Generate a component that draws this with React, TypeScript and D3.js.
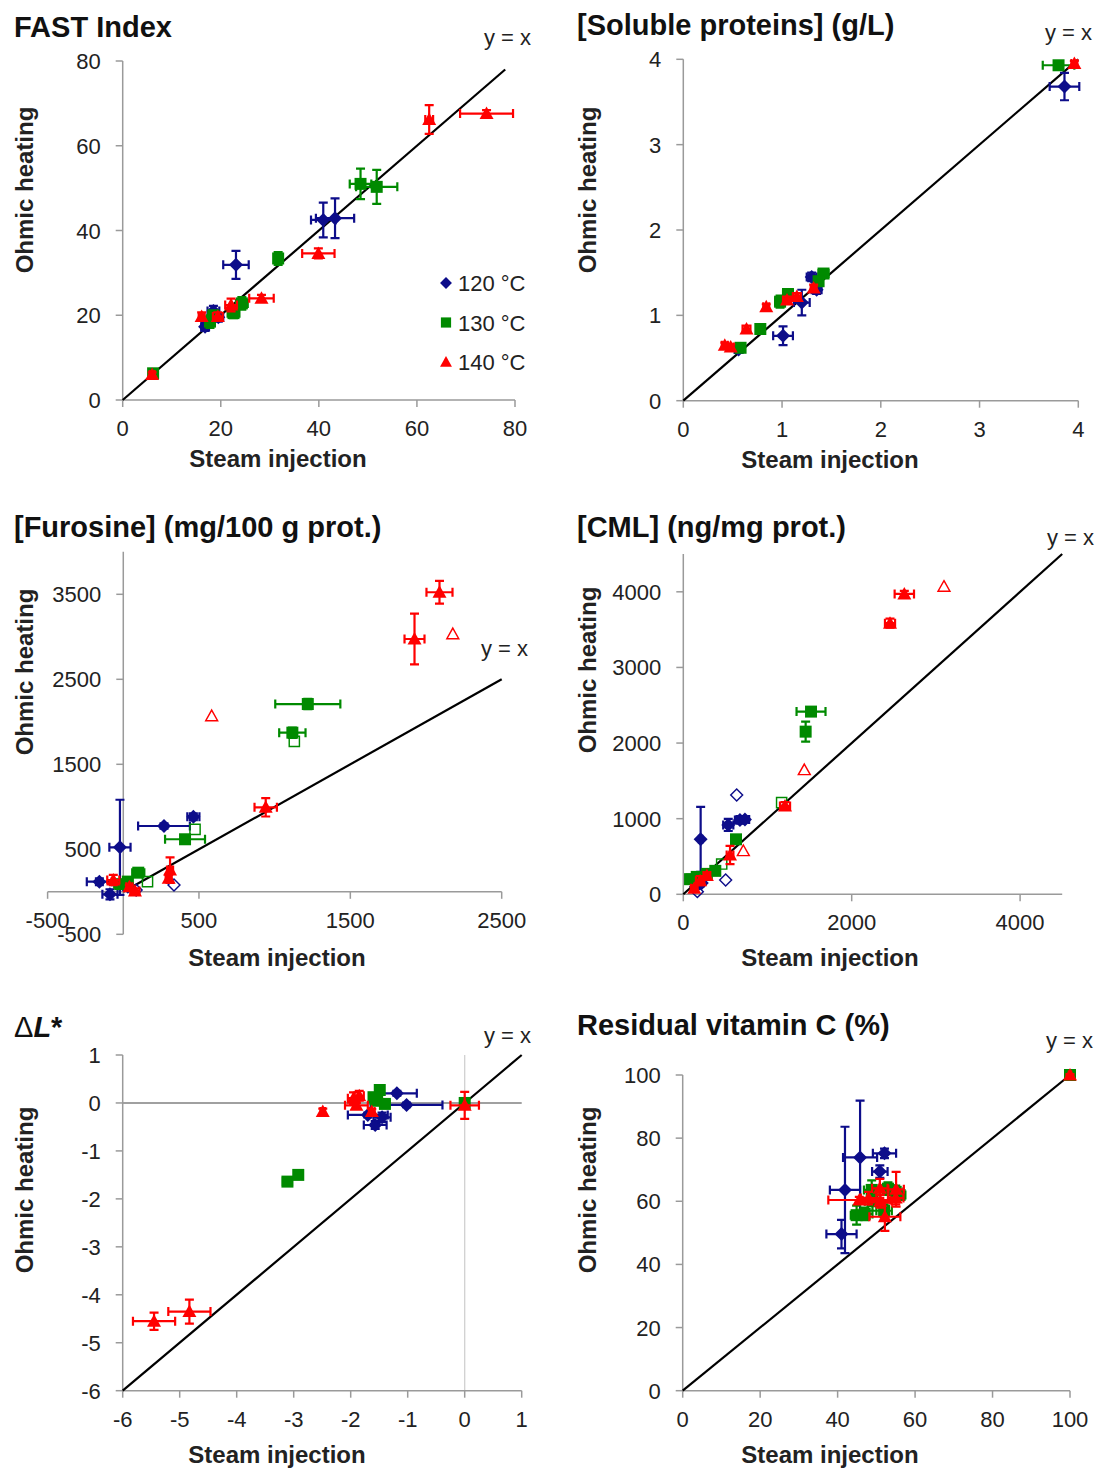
import React from "react";
import * as d3 from "d3";

// [steam, ohmic, xErr, yErr]
type Pt = number[];

const FONT = "'Liberation Sans', Arial, Helvetica, sans-serif";
const BLUE = "#0d0d8a";
const GREEN = "#008a00";
const RED = "#ff0000";
const AXIS = "#9a9a9a";

const temps = ["120 °C", "130 °C", "140 °C"];
const colors = [BLUE, GREEN, RED];
const shapes = ["diamond", "square", "triangle"];

// FAST Index
const fast120: Pt[] = [[16.8, 17.3, 0.8, 1], [18.5, 21, 1.2, 1.2], [19.5, 19.5, 1, 1], [23.1, 31.9, 2.6, 3.3], [40.9, 42.5, 2.5, 4.1], [43.3, 42.9, 3.9, 4.7]];
const fast130: Pt[] = [[6.2, 6.3, 0.5, 0.5], [17.8, 18.5, 1, 1.5], [18.5, 20, 1, 1], [22.6, 20.5, 1.2, 1.2], [24.3, 22.8, 1.2, 1.5], [31.7, 33.4, 0.8, 1.5], [48.5, 51, 2.2, 3.6], [51.8, 50.3, 4.2, 4]];
const fast140: Pt[] = [[6, 6, 0.5, 0.5], [16.1, 19.7, 0.6, 1], [19.4, 19.7, 1, 1], [22.1, 22.4, 1.2, 1.5], [28.3, 24, 2.5, 0.8], [39.9, 34.6, 3.3, 1.2], [62.5, 66.2, 0.8, 3.4], [74.2, 67.6, 5.4, 0.8]];

// Soluble proteins
const sol120: Pt[] = [[3.86, 3.68, 0.15, 0.16], [1.01, 0.76, 0.1, 0.11], [1.2, 1.15, 0.08, 0.15], [1.3, 1.45, 0.05, 0.05], [0.56, 0.6, 0.04, 0.04], [1.35, 1.3, 0.05, 0.05]];
const sol130: Pt[] = [[3.8, 3.93, 0.16, 0.04], [0.58, 0.62, 0.04, 0.03], [0.78, 0.84, 0.04, 0.03], [0.98, 1.16, 0.05, 0.07], [1.06, 1.25, 0.05, 0.05], [1.42, 1.49, 0.05, 0.03], [1.37, 1.4, 0.04, 0.05]];
const sol140: Pt[] = [[3.96, 3.95, 0.03, 0.03], [0.42, 0.65, 0.03, 0.03], [0.48, 0.63, 0.03, 0.03], [0.64, 0.84, 0.04, 0.04], [0.84, 1.1, 0.03, 0.03], [1.05, 1.18, 0.04, 0.04], [1.15, 1.22, 0.04, 0.04], [1.32, 1.32, 0.03, 0.04]];

// Furosine
const fur120: Pt[] = [[463, 884, 40, 40], [269, 774, 171, 30], [-22, 523, 70, 560], [-158, 119, 83, 40], [-88, -30, 50, 60], [30, 60, 30, 40]];
const fur120open: Pt[] = [[335, 80], [85, 20]];
const fur130: Pt[] = [[1219, 2209, 215, 60], [1117, 1872, 87, 60], [408, 618, 132, 50], [99, 225, 40, 50], [-20, 90, 40, 40], [30, 120, 30, 30]];
const fur130open: Pt[] = [[1130, 1770], [474, 735], [160, 120]];
const fur140: Pt[] = [[2089, 3524, 86, 133], [1924, 2974, 66, 298], [941, 994, 74, 108], [309, 256, 20, 150], [300, 160, 20, 40], [-66, 139, 40, 60], [77, 10, 30, 30], [40, 60, 20, 20]];
const fur140open: Pt[] = [[2177, 3033], [584, 2068]];

// CML
const cml120: Pt[] = [[206, 727, 20, 430], [534, 917, 60, 80], [673, 984, 60, 50], [732, 990, 50, 40], [150, 100, 20, 30], [220, 150, 20, 20]];
const cml120open: Pt[] = [[634, 1313], [503, 189], [167, 35]];
const cml130: Pt[] = [[1517, 2416, 172, 40], [1453, 2151, 40, 132], [626, 727, 40, 40], [80, 200, 40, 60], [160, 230, 40, 40], [280, 270, 40, 40], [380, 310, 40, 40]];
const cml130open: Pt[] = [[1168, 1212], [456, 400]];
const cml140: Pt[] = [[2625, 3972, 115, 40], [2455, 3585, 60, 60], [1208, 1168, 60, 50], [555, 520, 40, 120], [200, 180, 50, 60], [130, 80, 40, 40], [280, 250, 40, 40]];
const cml140open: Pt[] = [[3096, 4069], [1437, 1644], [713, 573]];

// Delta L*
const dl120: Pt[] = [[-1.02, -0.04, 0.63, 0.05], [-1.19, 0.2, 0.35, 0.05], [-1.57, -0.46, 0.2, 0.08], [-1.7, -0.25, 0.35, 0.05], [-1.45, -0.3, 0.15, 0.1]];
const dl130: Pt[] = [[-3.11, -1.64, 0.08, 0.06], [-2.92, -1.5, 0.05, 0.06], [-1.49, 0.27, 0.05, 0.1], [-1.55, 0.05, 0.1, 0.1], [-1.4, -0.02, 0.08, 0.08], [-1.6, 0.12, 0.05, 0.05], [0, 0, 0.05, 0.05]];
const dl140: Pt[] = [[-5.45, -4.55, 0.37, 0.18], [-4.83, -4.35, 0.37, 0.25], [-2.49, -0.18, 0.04, 0.06], [-1.95, 0.1, 0.1, 0.12], [-1.85, 0.15, 0.08, 0.1], [-1.63, -0.18, 0.05, 0.05], [-1.9, -0.05, 0.2, 0.05], [0, -0.05, 0.25, 0.28]];

// Residual vitamin C
const vc120: Pt[] = [[45.8, 73.9, 4.4, 18], [41.9, 63.6, 3.9, 20], [52.1, 75.2, 3, 1.5], [50.9, 69.4, 2, 2], [41, 49.6, 3.9, 4.5]];
const vc130: Pt[] = [[100, 100, 0.3, 0.3], [44.9, 55.6, 1.5, 3], [47, 56, 2, 2], [48.8, 63.6, 2, 3], [49, 60, 2, 3], [53, 64, 1.5, 2], [55, 63, 2, 2], [56, 62, 1.5, 1.5], [52, 57, 2, 2]];
const vc140: Pt[] = [[100, 100, 0.3, 0.3], [45.6, 60.4, 8, 1], [48, 61, 2, 2], [50.9, 64.1, 2, 3], [51, 60, 3, 2], [52.2, 55.1, 4, 4.5], [55.1, 63.8, 2, 5.5], [55, 61, 2, 2]];

const fastTicks = [0, 20, 40, 60, 80];
const solTicks = [0, 1, 2, 3, 4];
const furXTicks = [-500, 500, 1500, 2500];
const furYTicks = [-500, 500, 1500, 2500, 3500];
const cmlXTicks = [0, 2000, 4000];
const cmlYTicks = [0, 1000, 2000, 3000, 4000];
const dlTicks = [-6, -5, -4, -3, -2, -1, 0, 1];
const vcTicks = [0, 20, 40, 60, 80, 100];

function markerPath(shape: string) {
  if (shape === "diamond") return "M0,-7L7,0L0,7L-7,0Z";
  if (shape === "square") return "M-6,-6H6V6H-6Z";
  return "M0,-7L7,5.5L-7,5.5Z";
}

const panels = [
  {
    title: "FAST Index", titlePos: [14, 37],
    xDomain: [0, 80], xRange: [122.7, 515], yDomain: [0, 80], yRange: [400, 61],
    xTicks: fastTicks, yTicks: fastTicks, line: [0, 78],
    yx: [484, 45], xTitle: [278, 467], yTitle: [33, 190],
    series: [[fast120, []], [fast130, []], [fast140, []]], legend: [446, 283, 39.5],
  },
  {
    title: "[Soluble proteins] (g/L)", titlePos: [577, 35],
    xDomain: [0, 4], xRange: [683.3, 1078.3], yDomain: [0, 4], yRange: [400.7, 59.3],
    xTicks: solTicks, yTicks: solTicks, line: [0, 4],
    yx: [1045, 40], xTitle: [830, 468], yTitle: [596, 190],
    series: [[sol120, []], [sol130, []], [sol140, []]],
  },
  {
    title: "[Furosine] (mg/100 g prot.)", titlePos: [14, 537],
    xDomain: [-500, 2500], xRange: [47.6, 501.7], yDomain: [-500, 4000], yRange: [934.3, 551.8],
    xTicks: furXTicks, yTicks: furYTicks, line: [0, 2500], xAxisAt: 0, yAxisAt: 0,
    yx: [481, 656], xTitle: [277, 966], yTitle: [33, 672],
    series: [[fur120, fur120open], [fur130, fur130open], [fur140, fur140open]],
  },
  {
    title: "[CML] (ng/mg prot.)", titlePos: [577, 537],
    xDomain: [0, 4500], xRange: [683.3, 1062.2], yDomain: [0, 4500], yRange: [894.3, 554],
    xTicks: cmlXTicks, yTicks: cmlYTicks, line: [0, 4500],
    yx: [1047, 545], xTitle: [830, 966], yTitle: [596, 670],
    series: [[cml120, cml120open], [cml130, cml130open], [cml140, cml140open]],
  },
  {
    title: "dl", titlePos: [14, 1037],
    xDomain: [-6, 1], xRange: [122.7, 521.7], yDomain: [-6, 1], yRange: [1390.7, 1055],
    xTicks: dlTicks, yTicks: dlTicks, line: [-6, 1], zeroLines: true,
    yx: [484, 1043], xTitle: [277, 1463], yTitle: [33, 1190],
    series: [[dl120, []], [dl130, []], [dl140, []]],
  },
  {
    title: "Residual vitamin C (%)", titlePos: [577, 1035],
    xDomain: [0, 100], xRange: [682.7, 1070], yDomain: [0, 100], yRange: [1390.7, 1075],
    xTicks: vcTicks, yTicks: vcTicks, line: [0, 100],
    yx: [1046, 1048], xTitle: [830, 1463], yTitle: [596, 1190],
    series: [[vc120, []], [vc130, []], [vc140, []]],
  },
];

function Panel({ p }: { p: any }) {
  const x = d3.scaleLinear().domain(p.xDomain).range(p.xRange);
  const y = d3.scaleLinear().domain(p.yDomain).range(p.yRange);
  const axY = y(p.xAxisAt ?? p.yDomain[0]);
  const axX = x(p.yAxisAt ?? p.xDomain[0]);
  const cap = 4.5;

  return (
    <g>
      {p.title === "dl" ? (
        <text x={p.titlePos[0]} y={p.titlePos[1]} fontSize={29} fontWeight="bold" fontFamily={FONT} fill="#111">
          <tspan fontWeight="normal">Δ</tspan>
          <tspan fontStyle="italic">L</tspan>
          <tspan>*</tspan>
        </text>
      ) : (
        <text x={p.titlePos[0]} y={p.titlePos[1]} fontSize={29} fontWeight="bold" fontFamily={FONT} fill="#111">
          {p.title}
        </text>
      )}

      {p.zeroLines && (
        <g>
          <line x1={x(0)} x2={x(0)} y1={y(p.yDomain[0])} y2={y(p.yDomain[1])} stroke="#d0d0d0" strokeWidth={1.3} />
          <line x1={x(p.xDomain[0])} x2={x(p.xDomain[1])} y1={y(0)} y2={y(0)} stroke="#808080" strokeWidth={1.5} />
        </g>
      )}

      {/* axes */}
      <line x1={x(p.xDomain[0])} x2={x(p.xDomain[1])} y1={axY} y2={axY} stroke={AXIS} strokeWidth={1.5} />
      <line x1={axX} x2={axX} y1={y(p.yDomain[0])} y2={y(p.yDomain[1])} stroke={AXIS} strokeWidth={1.5} />
      {p.xTicks.map((t: number) => (
        <g key={"x" + t}>
          <line x1={x(t)} x2={x(t)} y1={axY} y2={axY + 7} stroke={AXIS} strokeWidth={1.5} />
          <text x={x(t)} y={axY + 36} textAnchor="middle" fontSize={22} fontFamily={FONT} fill="#222">{t}</text>
        </g>
      ))}
      {p.yTicks.map((t: number) => (
        <g key={"y" + t}>
          <line x1={axX - 7} x2={axX} y1={y(t)} y2={y(t)} stroke={AXIS} strokeWidth={1.5} />
          <text x={axX - 22} y={y(t) + 8} textAnchor="end" fontSize={22} fontFamily={FONT} fill="#222">{t}</text>
        </g>
      ))}

      {/* y = x */}
      <line x1={x(p.line[0])} y1={y(p.line[0])} x2={x(p.line[1])} y2={y(p.line[1])} stroke="#000" strokeWidth={2.2} />
      <text x={p.yx[0]} y={p.yx[1]} fontSize={22} fontFamily={FONT} fill="#222">y = x</text>

      {/* data */}
      {p.series.map((s: Pt[][], i: number) => (
        <g key={i} fill={colors[i]} stroke={colors[i]}>
          {s[1].map((d, j) => (
            <path key={"o" + j} d={markerPath(shapes[i])} transform={`translate(${x(d[0])},${y(d[1])}) scale(0.85)`} fill="none" strokeWidth={1.7} />
          ))}
          {s[0].map((d, j) => {
            const cx = x(d[0]);
            const cy = y(d[1]);
            const x0 = x(d[0] - d[2]);
            const x1 = x(d[0] + d[2]);
            const y0 = y(d[1] - d[3]);
            const y1 = y(d[1] + d[3]);
            return (
              <g key={j}>
                <path
                  d={`M${x0},${cy}H${x1}M${x0},${cy - cap}V${cy + cap}M${x1},${cy - cap}V${cy + cap}M${cx},${y0}V${y1}M${cx - cap},${y0}H${cx + cap}M${cx - cap},${y1}H${cx + cap}`}
                  fill="none"
                  strokeWidth={2.2}
                />
                <path d={markerPath(shapes[i])} transform={`translate(${cx},${cy})`} stroke="none" />
              </g>
            );
          })}
        </g>
      ))}

      {/* axis titles */}
      <text x={p.xTitle[0]} y={p.xTitle[1]} textAnchor="middle" fontSize={24} fontWeight="bold" fontFamily={FONT} fill="#222">
        Steam injection
      </text>
      <text transform={`translate(${p.yTitle[0]},${p.yTitle[1]}) rotate(-90)`} textAnchor="middle" fontSize={24} fontWeight="bold" fontFamily={FONT} fill="#222">
        Ohmic heating
      </text>

      {p.legend && temps.map((t, i) => (
        <g key={t}>
          <path d={markerPath(shapes[i])} transform={`translate(${p.legend[0]},${p.legend[1] + i * p.legend[2]}) scale(0.85)`} fill={colors[i]} />
          <text x={p.legend[0] + 12} y={p.legend[1] + i * p.legend[2] + 8} fontSize={22} fontFamily={FONT} fill="#222">{t}</text>
        </g>
      ))}
    </g>
  );
}

export default function App() {
  return (
    <svg width={1104} height={1471} style={{ position: "absolute", left: 0, top: 0, background: "#fff" }}>
      <rect width={1104} height={1471} fill="#fff" />
      {panels.map((p, i) => (
        <Panel key={i} p={p} />
      ))}
    </svg>
  );
}
